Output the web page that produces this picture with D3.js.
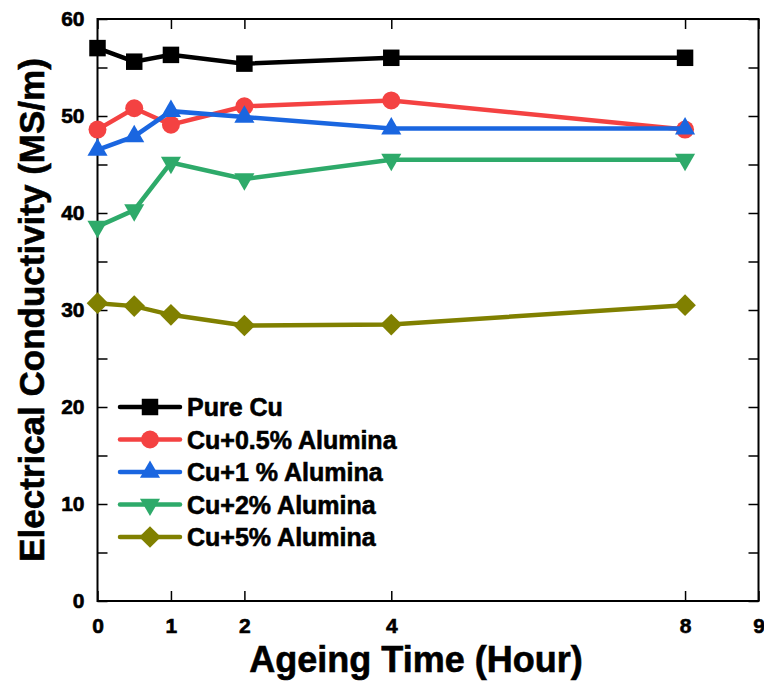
<!DOCTYPE html>
<html>
<head>
<meta charset="utf-8">
<script src="https://cdn.jsdelivr.net/npm/d3@7"></script>
<style>
  body { margin: 0; background: #fff; }
  text { font-family: "Liberation Sans", Arial, sans-serif; font-weight: bold; }
</style>
</head>
<body>
<div id="root"></div>
<script>
// ageing time (hours) and conductivity (MS/m)
const hours = [0, 0.5, 1, 2, 4, 8];
const pureCu = [57.0, 55.6, 56.3, 55.4, 56.0, 56.0];
const cu05 = [48.6, 50.8, 49.1, 51.0, 51.6, 48.6];
const cu1 = [46.5, 47.9, 50.5, 49.9, 48.7, 48.7];
const cu2 = [38.6, 40.3, 45.2, 43.5, 45.5, 45.5];
const cu5 = [30.7, 30.4, 29.5, 28.4, 28.5, 30.5];
const seriesNames = ["Pure Cu", "Cu+0.5% Alumina", "Cu+1 % Alumina", "Cu+2% Alumina", "Cu+5% Alumina"];
const xTicks = [0, 1, 2, 4, 8, 9];
const yTicks = [0, 5, 10, 15, 20, 25, 30, 35, 40, 45, 50, 55, 60];

const series = [
  { name: seriesNames[0], values: pureCu, color: "#000000", shape: "square" },
  { name: seriesNames[1], values: cu05, color: "#f44242", shape: "circle" },
  { name: seriesNames[2], values: cu1, color: "#1a66e0", shape: "up" },
  { name: seriesNames[3], values: cu2, color: "#2eaa6a", shape: "down" },
  { name: seriesNames[4], values: cu5, color: "#808000", shape: "diamond" }
];

const w = 764, h = 681;
const margin = { top: 19, right: 5.5, bottom: 80, left: 97.5 };
const width = w - margin.left - margin.right;
const height = h - margin.top - margin.bottom;

const svg = d3.select("#root").append("svg")
  .attr("width", w)
  .attr("height", h);

const g = svg.append("g")
  .attr("transform", "translate(" + margin.left + "," + margin.top + ")");

const x = d3.scaleLinear().domain([0, 9]).range([0, width]);
const y = d3.scaleLinear().domain([0, 60]).range([height, 0]);

function marker(shape) {
  if (shape === "square") return { type: d3.symbolSquare, size: 272, rot: 0 };
  if (shape === "circle") return { type: d3.symbolCircle, size: 254, rot: 0 };
  if (shape === "up") return { type: d3.symbolTriangle, size: 175, rot: 0 };
  if (shape === "down") return { type: d3.symbolTriangle, size: 175, rot: 180 };
  return { type: d3.symbolSquare, size: 235, rot: 45 };
}

// axes, ticks pointing inward
const axBottom = g.append("g")
  .attr("transform", "translate(0," + height + ")")
  .call(d3.axisBottom(x).tickValues(xTicks).tickSizeInner(-10).tickSizeOuter(0).tickPadding(17));
const axTop = g.append("g")
  .call(d3.axisTop(x).tickValues(xTicks).tickSizeInner(-10).tickSizeOuter(0).tickFormat(""));
const axLeft = g.append("g")
  .call(d3.axisLeft(y).tickValues(yTicks).tickSizeInner(-10).tickSizeOuter(0).tickPadding(13)
    .tickFormat(d => d % 10 === 0 ? d : ""));
const axRight = g.append("g")
  .attr("transform", "translate(" + width + ",0)")
  .call(d3.axisRight(y).tickValues(yTicks).tickSizeInner(-10).tickSizeOuter(0).tickFormat(""));

[axBottom, axTop, axLeft, axRight].forEach(a => {
  a.select(".domain").remove();
  a.selectAll("line").attr("stroke", "#000").attr("stroke-width", 1.5);
  a.selectAll("text")
    .attr("fill", "#000")
    .attr("stroke", "#000")
    .attr("stroke-width", 0.6)
    .style("font-size", "21px");
});

g.append("rect")
  .attr("width", width)
  .attr("height", height)
  .attr("fill", "none")
  .attr("stroke", "#000")
  .attr("stroke-width", 2);

const line = d3.line()
  .x((d, i) => x(hours[i]))
  .y(d => y(d));

series.forEach(s => {
  g.append("path")
    .datum(s.values)
    .attr("d", line)
    .attr("fill", "none")
    .attr("stroke", s.color)
    .attr("stroke-width", 4.5);
  const m = marker(s.shape);
  g.selectAll(null)
    .data(s.values)
    .enter().append("path")
    .attr("d", d3.symbol().type(m.type).size(m.size))
    .attr("transform", (d, i) => "translate(" + x(hours[i]) + "," + y(d) + ") rotate(" + m.rot + ")")
    .attr("fill", s.color);
});

// legend
const legend = svg.append("g").attr("transform", "translate(120,407)");
series.forEach((s, i) => {
  const row = legend.append("g").attr("transform", "translate(0," + (i * 32.5) + ")");
  row.append("line")
    .attr("x1", 0).attr("x2", 60)
    .attr("stroke", s.color)
    .attr("stroke-width", 4.5)
    .attr("stroke-linecap", "round");
  const m = marker(s.shape);
  row.append("path")
    .attr("d", d3.symbol().type(m.type).size(m.size))
    .attr("transform", "translate(30,0) rotate(" + m.rot + ")")
    .attr("fill", s.color);
  row.append("text")
    .attr("x", 67)
    .attr("dy", "0.36em")
    .style("font-size", "25px")
    .attr("fill", "#000")
    .attr("stroke", "#000")
    .attr("stroke-width", 0.6)
    .text(s.name);
});

svg.append("text")
  .attr("x", 416)
  .attr("y", 672)
  .attr("text-anchor", "middle")
  .style("font-size", "36px")
  .attr("stroke", "#000")
  .attr("stroke-width", 0.6)
  .text("Ageing Time (Hour)");

svg.append("text")
  .attr("transform", "rotate(-90)")
  .attr("x", -(margin.top + height / 2))
  .attr("y", 44)
  .attr("text-anchor", "middle")
  .style("font-size", "35px")
  .attr("stroke", "#000")
  .attr("stroke-width", 0.6)
  .text("Electrical Conductivity (MS/m)");
</script>
</body>
</html>
